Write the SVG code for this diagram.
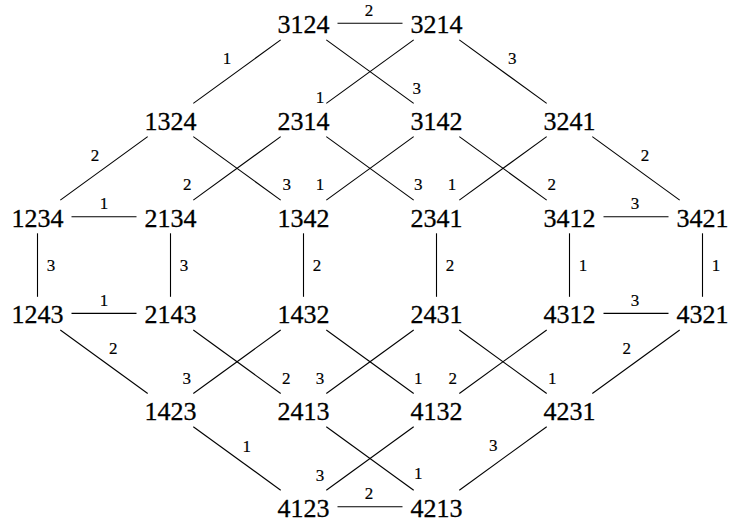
<svg xmlns="http://www.w3.org/2000/svg" width="730" height="525" viewBox="0 0 730 525">
<style>
.n{font-size:26px;text-anchor:middle;fill:#000;stroke:#000;stroke-width:0.3}
.l{font-size:17px;text-anchor:middle;fill:#000;stroke:#000;stroke-width:0.2}
#edges line{stroke:#000;stroke-width:1.1;fill:none}
</style>
<rect width="730" height="525" fill="#fff"/>
<g id="edges">
<line x1="337.5" y1="23.3" x2="402.5" y2="23.3"/>
<line x1="280.7" y1="39.9" x2="193.3" y2="103.4"/>
<line x1="326.3" y1="39.9" x2="413.7" y2="103.4"/>
<line x1="413.7" y1="39.9" x2="326.3" y2="103.4"/>
<line x1="459.3" y1="39.9" x2="546.7" y2="103.4"/>
<line x1="147.7" y1="136.6" x2="60.3" y2="200.1"/>
<line x1="193.3" y1="136.6" x2="280.7" y2="200.1"/>
<line x1="280.7" y1="136.6" x2="193.3" y2="200.1"/>
<line x1="326.3" y1="136.6" x2="413.7" y2="200.1"/>
<line x1="413.7" y1="136.6" x2="326.3" y2="200.1"/>
<line x1="459.3" y1="136.6" x2="546.7" y2="200.1"/>
<line x1="546.7" y1="136.6" x2="459.3" y2="200.1"/>
<line x1="592.3" y1="136.6" x2="679.7" y2="200.1"/>
<line x1="71.5" y1="216.7" x2="136.5" y2="216.7"/>
<line x1="603.5" y1="216.7" x2="668.5" y2="216.7"/>
<line x1="37.5" y1="233.3" x2="37.5" y2="296.8"/>
<line x1="170.5" y1="233.3" x2="170.5" y2="296.8"/>
<line x1="303.5" y1="233.3" x2="303.5" y2="296.8"/>
<line x1="436.5" y1="233.3" x2="436.5" y2="296.8"/>
<line x1="569.5" y1="233.3" x2="569.5" y2="296.8"/>
<line x1="702.5" y1="233.3" x2="702.5" y2="296.8"/>
<line x1="71.5" y1="313.4" x2="136.5" y2="313.4"/>
<line x1="603.5" y1="313.4" x2="668.5" y2="313.4"/>
<line x1="60.3" y1="330" x2="147.7" y2="393.5"/>
<line x1="193.3" y1="330" x2="280.7" y2="393.5"/>
<line x1="280.7" y1="330" x2="193.3" y2="393.5"/>
<line x1="326.3" y1="330" x2="413.7" y2="393.5"/>
<line x1="413.7" y1="330" x2="326.3" y2="393.5"/>
<line x1="459.3" y1="330" x2="546.7" y2="393.5"/>
<line x1="546.7" y1="330" x2="459.3" y2="393.5"/>
<line x1="679.7" y1="330" x2="592.3" y2="393.5"/>
<line x1="193.3" y1="426.7" x2="280.7" y2="490.2"/>
<line x1="326.3" y1="426.7" x2="413.7" y2="490.2"/>
<line x1="413.7" y1="426.7" x2="326.3" y2="490.2"/>
<line x1="546.7" y1="426.7" x2="459.3" y2="490.2"/>
<line x1="337.5" y1="506.8" x2="402.5" y2="506.8"/>
</g>
<g id="edge-labels" font-family="Liberation Serif, Times New Roman, serif">
<text class="l" x="369" y="15.8">2</text>
<text class="l" x="227" y="64.1">1</text>
<text class="l" x="416.7" y="93.5">3</text>
<text class="l" x="320" y="102.5">1</text>
<text class="l" x="512.3" y="64.1">3</text>
<text class="l" x="95" y="160.8">2</text>
<text class="l" x="286.7" y="190.1">3</text>
<text class="l" x="187.3" y="190.1">2</text>
<text class="l" x="320" y="190.1">1</text>
<text class="l" x="418.3" y="190.1">3</text>
<text class="l" x="452" y="190.1">1</text>
<text class="l" x="551.7" y="190.1">2</text>
<text class="l" x="645" y="160.8">2</text>
<text class="l" x="104" y="209.1">1</text>
<text class="l" x="635" y="209.1">3</text>
<text class="l" x="51" y="271.3">3</text>
<text class="l" x="184" y="271.3">3</text>
<text class="l" x="317" y="271.3">2</text>
<text class="l" x="450" y="271.3">2</text>
<text class="l" x="583" y="271.3">1</text>
<text class="l" x="716" y="271.3">1</text>
<text class="l" x="104" y="305.8">1</text>
<text class="l" x="635" y="305.8">3</text>
<text class="l" x="113.3" y="354.1">2</text>
<text class="l" x="186.7" y="384.1">3</text>
<text class="l" x="286.3" y="384.1">2</text>
<text class="l" x="320" y="384.1">3</text>
<text class="l" x="418.3" y="384.1">1</text>
<text class="l" x="452.7" y="384.1">2</text>
<text class="l" x="552.3" y="384.1">1</text>
<text class="l" x="626.7" y="354.1">2</text>
<text class="l" x="246.7" y="451.8">1</text>
<text class="l" x="320" y="480.8">3</text>
<text class="l" x="418.3" y="479.1">1</text>
<text class="l" x="493.3" y="450.8">3</text>
<text class="l" x="369" y="498.8">2</text>
</g>
<g id="nodes" font-family="Liberation Serif, Times New Roman, serif">
<g id="n3124"><text class="n" x="303.5" y="33.1">3124</text></g>
<g id="n3214"><text class="n" x="436.5" y="33.1">3214</text></g>
<g id="n1324"><text class="n" x="170.5" y="129.8">1324</text></g>
<g id="n2314"><text class="n" x="303.5" y="129.8">2314</text></g>
<g id="n3142"><text class="n" x="436.5" y="129.8">3142</text></g>
<g id="n3241"><text class="n" x="569.5" y="129.8">3241</text></g>
<g id="n1234"><text class="n" x="37.5" y="226.5">1234</text></g>
<g id="n2134"><text class="n" x="170.5" y="226.5">2134</text></g>
<g id="n1342"><text class="n" x="303.5" y="226.5">1342</text></g>
<g id="n2341"><text class="n" x="436.5" y="226.5">2341</text></g>
<g id="n3412"><text class="n" x="569.5" y="226.5">3412</text></g>
<g id="n3421"><text class="n" x="702.5" y="226.5">3421</text></g>
<g id="n1243"><text class="n" x="37.5" y="323.2">1243</text></g>
<g id="n2143"><text class="n" x="170.5" y="323.2">2143</text></g>
<g id="n1432"><text class="n" x="303.5" y="323.2">1432</text></g>
<g id="n2431"><text class="n" x="436.5" y="323.2">2431</text></g>
<g id="n4312"><text class="n" x="569.5" y="323.2">4312</text></g>
<g id="n4321"><text class="n" x="702.5" y="323.2">4321</text></g>
<g id="n1423"><text class="n" x="170.5" y="419.9">1423</text></g>
<g id="n2413"><text class="n" x="303.5" y="419.9">2413</text></g>
<g id="n4132"><text class="n" x="436.5" y="419.9">4132</text></g>
<g id="n4231"><text class="n" x="569.5" y="419.9">4231</text></g>
<g id="n4123"><text class="n" x="303.5" y="516.6">4123</text></g>
<g id="n4213"><text class="n" x="436.5" y="516.6">4213</text></g>
</g>
</svg>
